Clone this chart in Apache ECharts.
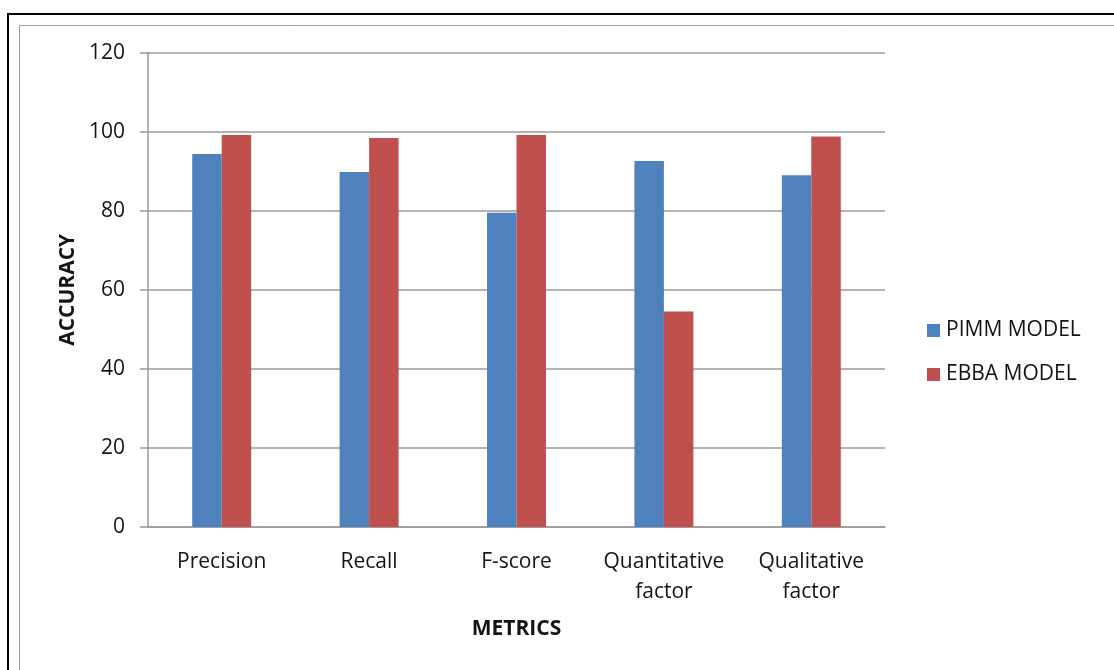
<!DOCTYPE html>
<html>
<head>
<meta charset="utf-8">
<script src="https://cdn.jsdelivr.net/npm/echarts@6/dist/echarts.min.js"></script>
<style>
  html, body { margin: 0; padding: 0; background: #ffffff; }
  #chart { width: 1114px; height: 670px; }
</style>
</head>
<body>
<div id="chart"></div>
<script>
// Metric categories on the x axis
const categories = ['Precision', 'Recall', 'F-score', 'Quantitative\nfactor', 'Qualitative\nfactor'];
// Accuracy per metric for each model
const pimmValues = [94.4, 89.8, 79.5, 92.6, 89.0];
const ebbaValues = [99.2, 98.4, 99.2, 54.5, 98.8];
const seriesNames = ['PIMM MODEL', 'EBBA MODEL'];
// Value axis ticks
const yTicks = [0, 20, 40, 60, 80, 100, 120];

const FONT = '"Open Sans", "Noto Sans", sans-serif';
const TEXT = '#141414';
const GRID_GRAY = '#9a9a9a';

const chart = echarts.init(document.getElementById('chart'), null, { renderer: 'canvas' });

chart.setOption({
  backgroundColor: '#ffffff',
  animation: false,
  textStyle: { fontFamily: FONT },
  graphic: [
    // outer black frame
    { type: 'rect', shape: { x: 8, y: 14, width: 1300, height: 900 },
      style: { fill: 'none', stroke: '#000000', lineWidth: 2 }, silent: true, z: -1 },
    // inner chart-area frame
    { type: 'rect', shape: { x: 19.5, y: 25.5, width: 1300, height: 900 },
      style: { fill: 'none', stroke: '#a0a0a0', lineWidth: 1 }, silent: true, z: -1 }
  ],
  grid: { left: 148, top: 52.7, right: 229, bottom: 143, containLabel: false },
  legend: {
    orient: 'vertical',
    left: 922,
    top: 315,
    itemWidth: 13,
    itemHeight: 13,
    itemGap: 23,
    icon: 'rect',
    textStyle: { fontFamily: FONT, fontSize: 21, color: TEXT, padding: [0, 0, 0, 1] },
    data: seriesNames
  },
  xAxis: {
    type: 'category',
    data: categories,
    name: 'METRICS',
    nameLocation: 'middle',
    nameGap: 92,
    nameTextStyle: { fontFamily: FONT, fontSize: 21, fontWeight: 'bold', color: TEXT },
    axisLine: { lineStyle: { color: GRID_GRAY, width: 1.5 } },
    axisTick: { show: false },
    axisLabel: { interval: 0, fontFamily: FONT, fontSize: 21, color: TEXT, margin: 20, lineHeight: 30 }
  },
  yAxis: {
    type: 'value',
    min: yTicks[0],
    max: yTicks[yTicks.length - 1],
    interval: yTicks[1] - yTicks[0],
    name: 'ACCURACY',
    nameLocation: 'middle',
    nameGap: 68,
    nameRotate: 90,
    nameTextStyle: { fontFamily: FONT, fontSize: 21, fontWeight: 'bold', color: TEXT },
    axisLine: { show: true, lineStyle: { color: GRID_GRAY, width: 1.5 } },
    axisTick: { show: true, inside: false, length: 8, lineStyle: { color: GRID_GRAY, width: 1.5 } },
    axisLabel: { fontFamily: FONT, fontSize: 21, color: TEXT, margin: 23 },
    splitLine: { show: true, lineStyle: { color: GRID_GRAY, width: 1.5 } }
  },
  series: [
    {
      name: seriesNames[0],
      type: 'bar',
      data: pimmValues,
      itemStyle: { color: '#4F81BD' },
      barGap: '0%',
      barCategoryGap: '60%'
    },
    {
      name: seriesNames[1],
      type: 'bar',
      data: ebbaValues,
      itemStyle: { color: '#C0504D' },
      barGap: '0%',
      barCategoryGap: '60%'
    }
  ]
});
</script>
</body>
</html>
